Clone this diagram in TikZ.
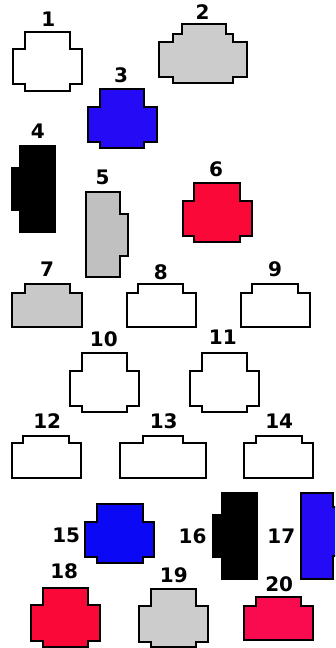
\documentclass[tikz,border=0pt]{standalone}
\usepackage{fontspec}
\setmainfont{DejaVu Sans}
\definecolor{blueA}{RGB}{36,10,245}
\definecolor{blueB}{RGB}{10,8,245}
\definecolor{redA}{RGB}{250,8,56}
\definecolor{redB}{RGB}{250,10,78}
\definecolor{grayA}{RGB}{204,204,204}
\definecolor{grayB}{RGB}{192,192,192}
\definecolor{grayC}{RGB}{200,200,200}
\newcommand{\plugcross}[9]{% fill, ol, il, ir, or, top, sh, lsh, bot
  \draw[plug, fill=#1] (#3,#6) -- (#4,#6) -- (#4,#7) -- (#5,#7) -- (#5,#8) -- (#4,#8) -- (#4,#9) -- (#3,#9) -- (#3,#8) -- (#2,#8) -- (#2,#7) -- (#3,#7) -- cycle;}
\newcommand{\plugtab}[8]{% fill, ol, il, ir, or, top, sh, bot
  \draw[plug, fill=#1] (#3,#6) -- (#4,#6) -- (#4,#7) -- (#5,#7) -- (#5,#8) -- (#2,#8) -- (#2,#7) -- (#3,#7) -- cycle;}
\begin{document}
\begin{tikzpicture}[x=1pt,y=-1pt,
  plug/.style={draw=black, line width=1.8pt, line join=miter},
  lbl/.style={inner sep=0pt, font=\fontsize{20}{20}\selectfont\bfseries}]
\useasboundingbox (0,0) rectangle (335,648);
\clip (0,0) rectangle (335,648);
% 1
\plugcross{white}{12.7}{25}{70}{81.7}{31.7}{49.3}{84.3}{90.7}
\node[lbl] (l1) at (48.3,19.3) {1};
% 2
\draw[plug, fill=grayA] (181.7,24) -- (225.7,24) -- (225.7,34.3) -- (233.3,34.3) -- (233.3,41.7) -- (247.3,41.7) -- (247.3,76.7) -- (233.3,76.7) -- (233.3,83.3) -- (172.7,83.3) -- (172.7,76.7) -- (159.3,76.7) -- (159.3,41.7) -- (172.7,41.7) -- (172.7,34.3) -- (181.7,34.3) -- cycle;
\node[lbl] (l2) at (202.5,12) {2};
% 3
\plugcross{blueA}{87.7}{100}{144.3}{156.7}{89.3}{107.3}{142.3}{148.3}
\node[lbl] (l3) at (121,75.5) {3};
% 4
\draw[plug, fill=black] (20,145.7) -- (55,145.7) -- (55,232.3) -- (20,232.3) -- (20,210) -- (11.7,210) -- (11.7,167.7) -- (20,167.7) -- cycle;
\node[lbl] (l4) at (37.8,131.2) {4};
% 5
\draw[plug, fill=grayB] (86,191.7) -- (120,191.7) -- (120,214.3) -- (128.3,214.3) -- (128.3,255.7) -- (120,255.7) -- (120,277.3) -- (86,277.3) -- cycle;
\node[lbl] (l5) at (102.5,177.2) {5};
% 6
\plugcross{redA}{182.7}{194.3}{240}{251.7}{182.7}{200.7}{235.7}{241.7}
\node[lbl] (l6) at (216,168.8) {6};
% 7 8 9
\plugtab{grayC}{12.3}{25}{70}{81.7}{284.3}{292.7}{326.7}
\node[lbl] (l7) at (47.2,269.2) {7};
\plugtab{white}{126.7}{138.3}{183.3}{195.7}{284.3}{292.7}{326.7}
\node[lbl] (l8) at (160.8,272.5) {8};
\plugtab{white}{240.7}{252.3}{297.7}{310}{284.3}{292.7}{326.7}
\node[lbl] (l9) at (275,269.2) {9};
% 10 11
\plugcross{white}{70}{82}{127.3}{139.3}{352.7}{370.7}{405.7}{411.7}
\node[lbl] (l10) at (103.8,339) {10};
\plugcross{white}{190}{201.7}{247}{259}{352.7}{370.7}{405.7}{411.7}
\node[lbl] (l11) at (222.8,337.5) {11};
% 12 13 14
\plugtab{white}{11.7}{23.3}{69}{81}{435.7}{443.3}{478.3}
\node[lbl] (l12) at (47.2,420.8) {12};
\plugtab{white}{120}{142.7}{182.7}{206}{435.7}{443.3}{478.3}
\node[lbl] (l13) at (163.7,420.8) {13};
\plugtab{white}{244}{256}{301.7}{313.3}{435.7}{443.3}{478.3}
\node[lbl] (l14) at (279.2,420.8) {14};
% 15
\plugcross{blueB}{85.3}{97.3}{142.7}{154.3}{504}{521.7}{556.7}{562.7}
\node[lbl] (l15) at (66.2,535.8) {15};
% 16
\draw[plug, fill=black] (221.7,493.3) -- (256.7,493.3) -- (256.7,579.3) -- (221.7,579.3) -- (221.7,557.3) -- (213.3,557.3) -- (213.3,515) -- (221.7,515) -- cycle;
\node[lbl] (l16) at (192.5,535.8) {16};
% 17
\draw[plug, fill=blueA] (300.7,493.3) -- (333.3,493.3) -- (333.3,507.3) -- (342,507.3) -- (342,556) -- (333.3,556) -- (333.3,579.3) -- (300.7,579.3) -- cycle;
\node[lbl] (l17) at (281.3,535.8) {17};
% 18 19 20
\plugcross{redA}{31}{43.3}{87.7}{100}{587.7}{605}{641}{646.7}
\node[lbl] (l18) at (64.2,571) {18};
\plugcross{grayA}{139}{151}{195.7}{207.7}{589}{606}{641.7}{647.3}
\node[lbl] (l19) at (173.8,574.8) {19};
\plugtab{redB}{244}{256}{301}{312.7}{597.3}{606}{640}
\node[lbl] (l20) at (279.2,583.8) {20};
\end{tikzpicture}
\end{document}
